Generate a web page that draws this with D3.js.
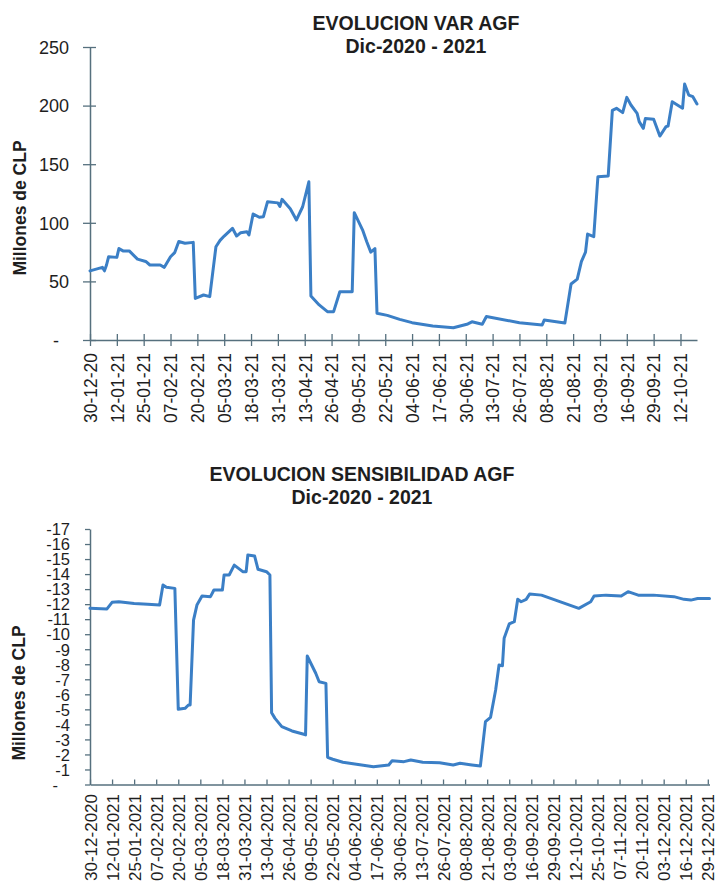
<!DOCTYPE html>
<html>
<head>
<meta charset="utf-8">
<script src="https://cdn.jsdelivr.net/npm/d3@7"></script>
<style>
  html, body { margin: 0; padding: 0; background: #fff; }
  svg { display: block; font-family: "Liberation Sans", Arial, sans-serif; }
</style>
</head>
<body>
<svg id="chart" width="717" height="886"></svg>
<script>
// ---------- DATA ----------
const topTitle = ["EVOLUCION VAR AGF", "Dic-2020 - 2021"];
const bottomTitle = ["EVOLUCION SENSIBILIDAD AGF", "Dic-2020 - 2021"];
const yAxisTitle = "Millones de CLP";

const topDates = ["2020-12-30","2021-01-05","2021-01-06","2021-01-07","2021-01-08","2021-01-12","2021-01-13","2021-01-15","2021-01-18","2021-01-22","2021-01-26","2021-01-28","2021-02-02","2021-02-04","2021-02-05","2021-02-07","2021-02-09","2021-02-11","2021-02-14","2021-02-18","2021-02-19","2021-02-23","2021-02-26","2021-03-01","2021-03-03","2021-03-05","2021-03-09","2021-03-11","2021-03-13","2021-03-16","2021-03-17","2021-03-19","2021-03-22","2021-03-24","2021-03-26","2021-03-31","2021-04-01","2021-04-02","2021-04-06","2021-04-09","2021-04-12","2021-04-15","2021-04-16","2021-04-20","2021-04-24","2021-04-27","2021-04-30","2021-05-06","2021-05-07","2021-05-11","2021-05-13","2021-05-15","2021-05-17","2021-05-18","2021-05-23","2021-05-29","2021-06-04","2021-06-14","2021-06-24","2021-07-01","2021-07-03","2021-07-08","2021-07-10","2021-07-26","2021-08-06","2021-08-07","2021-08-17","2021-08-20","2021-08-23","2021-08-25","2021-08-27","2021-08-28","2021-08-31","2021-09-02","2021-09-07","2021-09-09","2021-09-11","2021-09-14","2021-09-16","2021-09-18","2021-09-21","2021-09-22","2021-09-24","2021-09-25","2021-09-29","2021-10-02","2021-10-05","2021-10-06","2021-10-08","2021-10-13","2021-10-14","2021-10-16","2021-10-18","2021-10-20"];
const topValues = [59,62,59,64,71,70.5,78,76,76,69,67,64,64,62,65,71,74.5,84,82.5,83.3,35.5,38.4,37,79.6,85,88.7,95.3,88.7,91.6,92.4,89.6,107.5,104.7,105.2,118,117,114,120,112,102.4,113.7,135,37.5,29.9,24.2,24.2,41.2,41.2,108.6,94,84,75,78,22.8,21,17.6,14.8,12,10.5,13.7,15.5,13.5,20,14.8,12.8,17,14.5,47.8,52,66.8,75,90.4,88.2,139.3,140,196,197.7,194,207,200.5,193.4,186.3,180.6,189,188.3,174,182,182.6,203.3,197.7,218.4,209,207.6,201.4];
const topXDomain = ["2020-12-30", "2021-10-20"];
const topXTicks = ["30-12-20","12-01-21","25-01-21","07-02-21","20-02-21","05-03-21","18-03-21","31-03-21","13-04-21","26-04-21","09-05-21","22-05-21","04-06-21","17-06-21","30-06-21","13-07-21","26-07-21","08-08-21","21-08-21","03-09-21","16-09-21","29-09-21","12-10-21"];
const topYTicks = [0, 50, 100, 150, 200, 250];

const botDates = ["2020-12-30","2021-01-09","2021-01-12","2021-01-16","2021-01-25","2021-02-02","2021-02-09","2021-02-11","2021-02-13","2021-02-18","2021-02-20","2021-02-24","2021-02-26","2021-02-27","2021-03-01","2021-03-03","2021-03-06","2021-03-11","2021-03-13","2021-03-18","2021-03-19","2021-03-22","2021-03-25","2021-03-30","2021-04-01","2021-04-02","2021-04-06","2021-04-08","2021-04-13","2021-04-15","2021-04-16","2021-04-18","2021-04-22","2021-04-28","2021-05-05","2021-05-06","2021-05-07","2021-05-12","2021-05-14","2021-05-18","2021-05-19","2021-05-22","2021-05-28","2021-06-08","2021-06-15","2021-06-24","2021-06-26","2021-07-03","2021-07-07","2021-07-14","2021-07-24","2021-08-01","2021-08-05","2021-08-12","2021-08-17","2021-08-20","2021-08-23","2021-08-26","2021-08-28","2021-08-30","2021-08-31","2021-09-03","2021-09-06","2021-09-08","2021-09-10","2021-09-13","2021-09-15","2021-09-22","2021-10-14","2021-10-21","2021-10-23","2021-10-30","2021-11-08","2021-11-12","2021-11-18","2021-11-27","2021-12-09","2021-12-15","2021-12-19","2021-12-23","2021-12-30"];
const botValues = [-11.72,-11.68,-12.12,-12.16,-12.05,-11.99,-11.94,-13.27,-13.12,-13.05,-5.0,-5.07,-5.29,-5.29,-10.94,-11.94,-12.54,-12.5,-12.94,-12.94,-13.94,-13.94,-14.6,-14.16,-14.16,-15.27,-15.2,-14.32,-14.16,-13.94,-4.78,-4.4,-3.85,-3.56,-3.34,-3.3,-8.55,-7.4,-6.84,-6.73,-1.81,-1.68,-1.48,-1.3,-1.18,-1.3,-1.58,-1.52,-1.63,-1.48,-1.45,-1.3,-1.41,-1.3,-1.23,-4.18,-4.47,-6.29,-7.95,-7.9,-9.73,-10.68,-10.83,-12.32,-12.16,-12.32,-12.67,-12.6,-11.72,-12.16,-12.54,-12.6,-12.54,-12.83,-12.6,-12.6,-12.5,-12.32,-12.27,-12.38,-12.38];
const botXDomain = ["2020-12-30", "2021-12-30"];
const botXTicks = ["30-12-2020","12-01-2021","25-01-2021","07-02-2021","20-02-2021","05-03-2021","18-03-2021","31-03-2021","13-04-2021","26-04-2021","09-05-2021","22-05-2021","04-06-2021","17-06-2021","30-06-2021","13-07-2021","26-07-2021","08-08-2021","21-08-2021","03-09-2021","16-09-2021","29-09-2021","12-10-2021","25-10-2021","07-11-2021","20-11-2021","03-12-2021","16-12-2021","29-12-2021"];
const botYTicks = [0,-1,-2,-3,-4,-5,-6,-7,-8,-9,-10,-11,-12,-13,-14,-15,-16,-17];

// ---------- STYLE ----------
const LINE_COLOR = "#3b7fc6";
const AXIS_COLOR = "#56707e";
const TEXT_COLOR = "#1e1e1e";

const parseISO = d3.utcParse("%Y-%m-%d");
const svg = d3.select("#chart");

function drawChart(cfg) {
  const g = svg.append("g");
  const x = d3.scaleUtc().domain(cfg.xDomain.map(parseISO)).range([cfg.left, cfg.right]);
  const y = d3.scaleLinear().domain(cfg.yDomain).range([cfg.bottom, cfg.top]);

  // title
  const t = g.append("text")
    .attr("text-anchor", "middle")
    .attr("font-weight", "bold")
    .attr("font-size", 19.5)
    .attr("fill", TEXT_COLOR);
  cfg.title.forEach((line, i) => {
    t.append("tspan").attr("x", cfg.titleX).attr("y", cfg.titleY + i * 23).text(line);
  });

  // y axis title
  g.append("text")
    .attr("transform", `translate(${cfg.yTitleX},${cfg.yTitleY}) rotate(-90)`)
    .attr("text-anchor", "middle")
    .attr("dominant-baseline", "central")
    .attr("font-weight", "bold")
    .attr("font-size", 17.5)
    .attr("fill", TEXT_COLOR)
    .text(yAxisTitle);

  // x axis
  const xAxis = d3.axisBottom(x)
    .tickValues(cfg.xTicks.map(cfg.tickParse))
    .tickFormat(cfg.tickFormat)
    .tickSizeOuter(0)
    .tickSizeInner(0)
    .tickPadding(0);
  const gx = g.append("g")
    .attr("transform", `translate(0,${cfg.bottom})`)
    .call(xAxis);
  gx.select(".domain").attr("stroke", AXIS_COLOR).attr("stroke-width", 1.5);
  gx.selectAll(".tick line")
    .attr("stroke", AXIS_COLOR).attr("stroke-width", 1.3)
    .attr("y1", cfg.xTickUp).attr("y2", cfg.xTickDown);
  gx.selectAll(".tick text")
    .attr("font-size", cfg.xFontSize)
    .attr("font-family", "'Liberation Sans', Arial, sans-serif")
    .attr("fill", TEXT_COLOR)
    .attr("text-anchor", "end")
    .attr("transform", `translate(0,${cfg.xLabelOffset}) rotate(-90)`)
    .attr("x", 0).attr("y", 0)
    .attr("dy", "0.36em");

  // y axis
  const yAxis = d3.axisLeft(y)
    .tickValues(cfg.yTicks)
    .tickFormat(cfg.yFormat)
    .tickSizeOuter(0)
    .tickSizeInner(0)
    .tickPadding(0);
  const gy = g.append("g")
    .attr("transform", `translate(${cfg.left},0)`)
    .call(yAxis);
  gy.select(".domain").attr("stroke", AXIS_COLOR).attr("stroke-width", 1.5);
  gy.selectAll(".tick line")
    .attr("stroke", AXIS_COLOR).attr("stroke-width", 1.3)
    .attr("x1", cfg.yTickOut).attr("x2", cfg.yTickIn);
  gy.selectAll(".tick text")
    .attr("font-size", cfg.yFontSize)
    .attr("font-family", "'Liberation Sans', Arial, sans-serif")
    .attr("fill", TEXT_COLOR)
    .attr("x", d => d === 0 ? cfg.yLabelX - cfg.zeroShift : cfg.yLabelX)
    .attr("dy", "0.35em");

  // line
  const pts = cfg.dates.map((d, i) => ({ date: parseISO(d), value: cfg.values[i] }));
  const line = d3.line().x(d => x(d.date)).y(d => y(d.value));
  g.append("path")
    .datum(pts)
    .attr("fill", "none")
    .attr("stroke", LINE_COLOR)
    .attr("stroke-width", 3)
    .attr("stroke-linejoin", "round")
    .attr("stroke-linecap", "round")
    .attr("d", line);
}

drawChart({
  title: topTitle, titleX: 416, titleY: 30,
  yTitleX: 20, yTitleY: 208,
  left: 90, right: 697, top: 47, bottom: 340,
  xDomain: topXDomain, yDomain: [0, 250],
  xTicks: topXTicks, tickParse: d3.utcParse("%d-%m-%y"), tickFormat: d3.utcFormat("%d-%m-%y"),
  xTickUp: -6, xTickDown: 6, xLabelOffset: 13, xFontSize: 17.5,
  yTicks: topYTicks, yFormat: v => v === 0 ? "-" : String(v),
  yTickOut: -7, yTickIn: 6, yLabelX: -21, zeroShift: 10, yFontSize: 18,
  dates: topDates, values: topValues
});

drawChart({
  title: bottomTitle, titleX: 362, titleY: 481,
  yTitleX: 18.5, yTitleY: 693,
  left: 90, right: 709.5, top: 529, bottom: 784.5,
  xDomain: botXDomain, yDomain: [0, -17],
  xTicks: botXTicks, tickParse: d3.utcParse("%d-%m-%Y"), tickFormat: d3.utcFormat("%d-%m-%Y"),
  xTickUp: -5, xTickDown: 0, xLabelOffset: 9.5, xFontSize: 17,
  yTicks: botYTicks, yFormat: v => v === 0 ? "-" : "-" + Math.abs(v),
  yTickOut: -5, yTickIn: 0, yLabelX: -20, zeroShift: 12, yFontSize: 16.5,
  dates: botDates, values: botValues
});
</script>
</body>
</html>
